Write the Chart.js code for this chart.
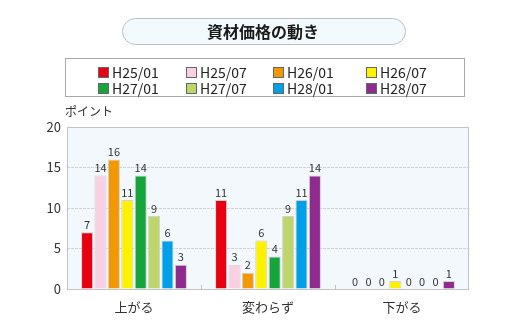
<!DOCTYPE html>
<html>
<head>
<meta charset="utf-8">
<script src="https://cdn.jsdelivr.net/npm/chart.js@4/dist/chart.umd.min.js"></script>
<style>
  html, body { margin: 0; padding: 0; background: #fff; }
  #wrap { width: 520px; height: 327px; }
</style>
</head>
<body>
<div id="wrap"><canvas id="c" width="520" height="327"></canvas></div>
<script>
const FONT = '"Noto Sans CJK JP", "Noto Sans", sans-serif';

// Categories and tick labels
const categories = ['上がる', '変わらず', '下がる'];
const yTicks = [0, 5, 10, 15, 20];
const chartTitle = '資材価格の動き';
const yUnit = 'ポイント';

// Series: one per survey period
const periods = ['H25/01', 'H25/07', 'H26/01', 'H26/07', 'H27/01', 'H27/07', 'H28/01', 'H28/07'];
const h25_01 = [7, 11, 0];
const h25_07 = [14, 3, 0];
const h26_01 = [16, 2, 0];
const h26_07 = [11, 6, 1];
const h27_01 = [14, 4, 0];
const h27_07 = [9, 9, 0];
const h28_01 = [6, 11, 0];
const h28_07 = [3, 14, 1];
const seriesValues = [h25_01, h25_07, h26_01, h26_07, h27_01, h27_07, h28_01, h28_07];
const seriesColors = ['#e60012', '#f9d0e2', '#f39800', '#fff100', '#16a43c', '#bed56a', '#00a0e9', '#8f2b8e'];

// Title pill, legend frame, axis unit, plot background and value labels
const decorations = {
  id: 'decorations',
  beforeDraw(chart) {
    const ctx = chart.ctx;
    const a = chart.chartArea;
    ctx.save();
    // plot background
    ctx.fillStyle = '#f2f8fc';
    ctx.fillRect(a.left, a.top, a.right - a.left, a.bottom - a.top);

    // title pill
    const tx = 122.5, ty = 18.5, tw = 283, th = 26, r = 13;
    ctx.beginPath();
    ctx.roundRect(tx, ty, tw, th, r);
    ctx.fillStyle = '#f3fafd';
    ctx.fill();
    ctx.strokeStyle = '#bdbdbd';
    ctx.lineWidth = 1;
    ctx.stroke();
    ctx.fillStyle = '#1a1a1a';
    ctx.font = 'bold 16px ' + FONT;
    ctx.textAlign = 'center';
    ctx.textBaseline = 'middle';
    ctx.fillText(chartTitle, 263, 32);

    // legend frame
    ctx.fillStyle = '#fff';
    ctx.fillRect(65.5, 58.5, 399, 38);
    ctx.strokeStyle = '#a8a8a8';
    ctx.strokeRect(65.5, 58.5, 399, 38);
    const colX = [98, 186, 273, 366];
    const rowY = [67, 83];
    ctx.font = '14px ' + FONT;
    ctx.textAlign = 'left';
    chart.data.datasets.forEach((ds, i) => {
      const x = colX[i % 4], y = rowY[Math.floor(i / 4)];
      ctx.fillStyle = ds.backgroundColor;
      ctx.fillRect(x, y, 11, 11);
      ctx.strokeStyle = '#666';
      ctx.lineWidth = 1;
      ctx.strokeRect(x + 0.5, y + 0.5, 10, 10);
      ctx.fillStyle = '#222';
      ctx.fillText(ds.label, x + 14, y + 6);
    });

    // y unit
    ctx.font = '12px ' + FONT;
    ctx.fillStyle = '#333';
    ctx.textAlign = 'left';
    ctx.fillText(yUnit, 65, 111);
    ctx.restore();
  },
  afterDatasetsDraw(chart) {
    const ctx = chart.ctx;
    const a = chart.chartArea;
    ctx.save();
    // plot frame
    ctx.strokeStyle = '#c4c4c4';
    ctx.lineWidth = 1;
    ctx.strokeRect(a.left + 0.5, a.top + 0.5, a.right - a.left - 1, a.bottom - a.top);
    // short ticks at category boundaries
    const step = (a.right - a.left) / categories.length;
    for (let i = 1; i < categories.length; i++) {
      const x = Math.round(a.left + step * i) + 0.5;
      ctx.beginPath();
      ctx.moveTo(x, a.bottom);
      ctx.lineTo(x, a.bottom - 4);
      ctx.stroke();
    }
    // value labels
    ctx.font = '11px ' + FONT;
    ctx.fillStyle = '#333';
    ctx.textAlign = 'center';
    ctx.textBaseline = 'bottom';
    chart.data.datasets.forEach((ds, i) => {
      chart.getDatasetMeta(i).data.forEach((bar, j) => {
        ctx.fillText(String(ds.data[j]), bar.x, bar.y - 2);
      });
    });
    ctx.restore();
  }
};

new Chart(document.getElementById('c'), {
  type: 'bar',
  data: {
    labels: categories,
    datasets: periods.map((p, i) => ({
      label: p,
      data: seriesValues[i],
      backgroundColor: seriesColors[i],
      borderColor: 'rgba(205,205,205,0.9)',
      borderWidth: 1,
      barPercentage: 0.9,
      categoryPercentage: 0.8
    }))
  },
  options: {
    responsive: false,
    animation: false,
    devicePixelRatio: 1,
    layout: { padding: { top: 127, right: 51, bottom: 0, left: 0 } },
    plugins: {
      legend: { display: false },
      title: { display: false },
      tooltip: { enabled: false }
    },
    scales: {
      x: {
        grid: { display: false, drawTicks: false },
        border: { display: false },
        ticks: { padding: 10, color: '#333', font: { family: FONT, size: 13 } },
        afterFit(s) { s.height = 38; }
      },
      y: {
        min: 0,
        max: 20,
        afterBuildTicks(s) { s.ticks = yTicks.map(v => ({ value: v })); },
        grid: {
          color: (c) => (c.tick && (c.tick.value === 0 || c.tick.value === 20)) ? 'rgba(0,0,0,0)' : '#d2d2d2',
          drawTicks: false
        },
        border: { display: false, dash: [3, 1] },
        ticks: { padding: 6, color: '#333', font: { family: FONT, size: 13 } },
        afterFit(s) { s.width = 67; }
      }
    }
  },
  plugins: [decorations]
});
</script>
</body>
</html>
